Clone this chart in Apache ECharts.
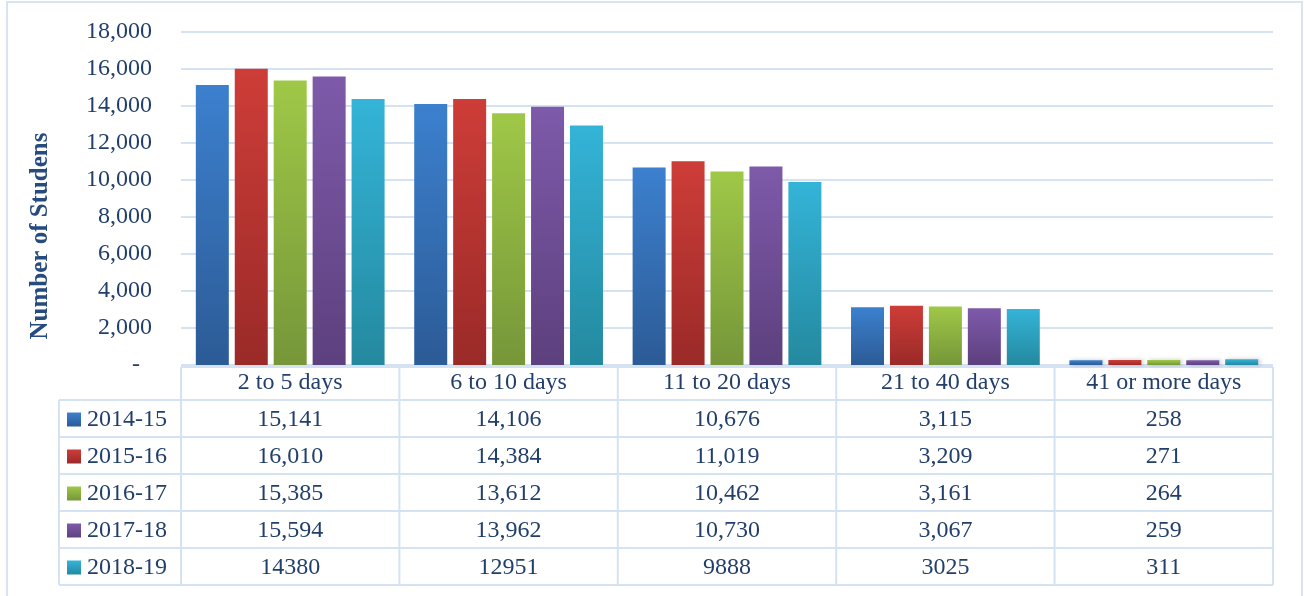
<!DOCTYPE html>
<html>
<head>
<meta charset="utf-8">
<script src="https://cdn.jsdelivr.net/npm/echarts@6/dist/echarts.min.js"></script>
<style>
html,body{margin:0;padding:0;background:#fff;}
#c{width:1304px;height:596px;}
</style>
</head>
<body>
<div id="c"></div>
<script>
// ---- data ----
const categories = ['2 to 5 days', '6 to 10 days', '11 to 20 days', '21 to 40 days', '41 or more days'];
const seriesNames = ['2014-15', '2015-16', '2016-17', '2017-18', '2018-19'];
const values2014 = [15141, 14106, 10676, 3115, 258];
const values2015 = [16010, 14384, 11019, 3209, 271];
const values2016 = [15385, 13612, 10462, 3161, 264];
const values2017 = [15594, 13962, 10730, 3067, 259];
const values2018 = [14380, 12951, 9888, 3025, 311];
const seriesValues = [values2014, values2015, values2016, values2017, values2018];
const tableUsesCommas = [true, true, true, true, false];
const yTicks = [0, 2000, 4000, 6000, 8000, 10000, 12000, 14000, 16000, 18000];
const yTitle = 'Number of Studens';

// ---- styles ----
const topColors = ['#3c80ce', '#ce3d38', '#9fc847', '#7e5aaa', '#34b4d8'];
const botColors = ['#2c5b96', '#9a2a28', '#769639', '#5d407e', '#24899f'];
const TEXT = '#223f6b';
const LINE = '#d5e2f2';
const FONT = '"Liberation Serif", "Times New Roman", serif';
const FS = 24;

function grad(i) {
  return new echarts.graphic.LinearGradient(0, 0, 0, 1, [
    {offset: 0, color: topColors[i]}, {offset: 1, color: botColors[i]}
  ]);
}
function fmt(v) { return v.toString().replace(/\B(?=(\d{3})+(?!\d))/g, ','); }

const chart = echarts.init(document.getElementById('c'), null, {renderer: 'canvas'});

const option = {
  animation: false,
  backgroundColor: '#fff',
  grid: {left: 181, right: 31, top: 32, bottom: 231, containLabel: false},
  xAxis: {
    type: 'category',
    data: categories,
    axisLine: {show: false},
    axisTick: {show: false},
    axisLabel: {color: TEXT, fontFamily: FONT, fontSize: FS, margin: 6}
  },
  yAxis: {
    type: 'value',
    min: yTicks[0],
    max: yTicks[yTicks.length - 1],
    interval: yTicks[1] - yTicks[0],
    axisLine: {show: false},
    axisTick: {show: false},
    splitLine: {lineStyle: {color: LINE, width: 2}},
    axisLabel: {
      color: TEXT, fontFamily: FONT, fontSize: FS, margin: 29,
      formatter: v => v === 0 ? '-  ' : fmt(v)
    }
  },
  series: seriesNames.map((n, i) => ({
    name: n,
    type: 'bar',
    data: seriesValues[i],
    barWidth: 33,
    barGap: '18%',
    itemStyle: {
      color: grad(i),
      shadowColor: 'rgba(0,0,0,0.22)',
      shadowBlur: 4,
      shadowOffsetX: 2,
      shadowOffsetY: 0
    }
  }))
};
chart.setOption(option);

// ---- data table built from the arrays, positioned by the axis scale ----
const centers = categories.map((c, i) => chart.convertToPixel({xAxisIndex: 0}, i));
const band = centers[1] - centers[0];
const bounds = [centers[0] - band / 2].concat(centers.map(c => c + band / 2));
const zeroY = chart.convertToPixel({yAxisIndex: 0}, 0);
const headTop = zeroY + 2;
const rowH = 37;
const firstRowTop = headTop + 33;
const tableBottom = firstRowTop + rowH * seriesNames.length;
const legendLeft = 59;

const g = [];
// outer chart border
g.push({type: 'rect', shape: {x: 7, y: 2, width: 1295, height: 620}, style: {fill: null, stroke: '#d9e4f2', lineWidth: 2}, z: 0});
// y axis title
g.push({type: 'text', x: 41, y: 236, rotation: Math.PI / 2,
  style: {text: yTitle, fill: '#264b7e', font: 'bold 25px ' + FONT, textAlign: 'center', textVerticalAlign: 'middle'}});
// horizontal lines
g.push({type: 'line', shape: {x1: bounds[0], y1: headTop, x2: bounds[bounds.length - 1], y2: headTop}, style: {stroke: LINE, lineWidth: 2}});
for (let r = 0; r <= seriesNames.length; r++) {
  const y = firstRowTop + r * rowH;
  g.push({type: 'line', shape: {x1: legendLeft, y1: y, x2: bounds[bounds.length - 1], y2: y}, style: {stroke: LINE, lineWidth: 2}});
}
// vertical lines
g.push({type: 'line', shape: {x1: legendLeft, y1: firstRowTop, x2: legendLeft, y2: tableBottom}, style: {stroke: LINE, lineWidth: 2}});
bounds.forEach(x => {
  g.push({type: 'line', shape: {x1: x, y1: headTop, x2: x, y2: tableBottom}, style: {stroke: LINE, lineWidth: 2}});
});
// rows
seriesNames.forEach((n, r) => {
  const cy = firstRowTop + r * rowH + rowH / 2 + 1;
  g.push({type: 'rect', shape: {x: 67, y: cy - 7, width: 14, height: 14},
    style: {fill: grad(r)}});
  g.push({type: 'text', x: 87, y: cy, style: {text: n, fill: TEXT, font: FS + 'px ' + FONT, textAlign: 'left', textVerticalAlign: 'middle'}});
  seriesValues[r].forEach((v, c) => {
    g.push({type: 'text', x: centers[c], y: cy,
      style: {text: tableUsesCommas[r] ? fmt(v) : String(v), fill: TEXT, font: FS + 'px ' + FONT, textAlign: 'center', textVerticalAlign: 'middle'}});
  });
});
chart.setOption({graphic: {elements: g}});
</script>
</body>
</html>
